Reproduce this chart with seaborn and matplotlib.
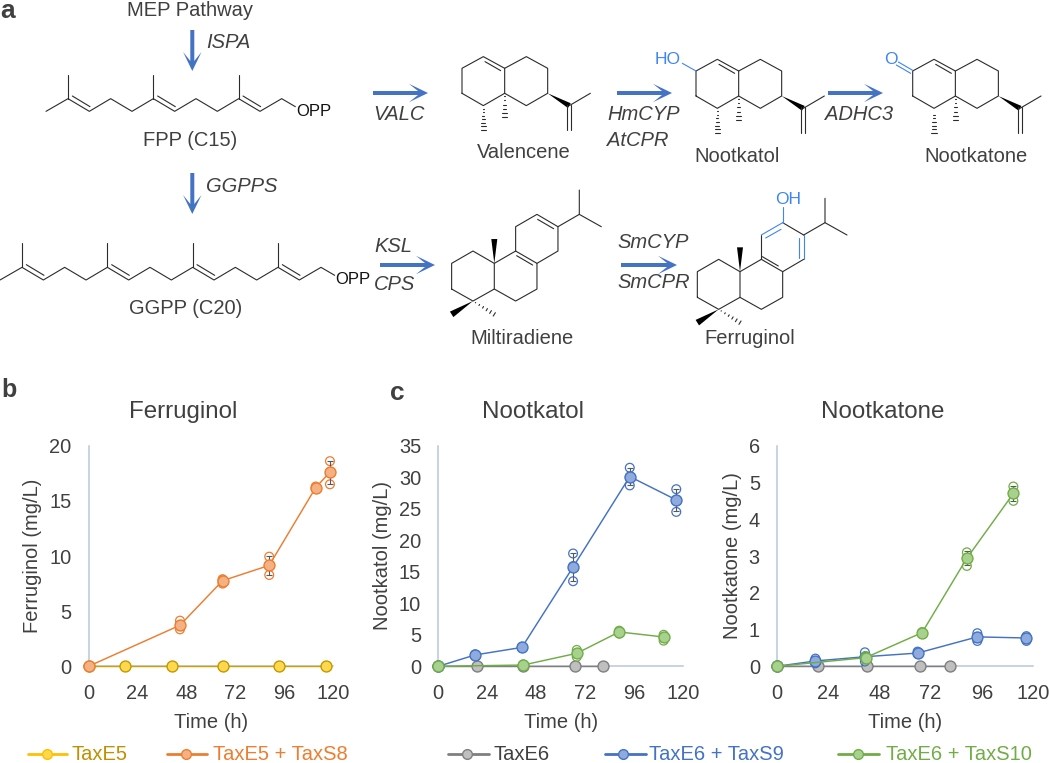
import numpy as np
import pandas as pd
import matplotlib
matplotlib.use("Agg")
import matplotlib.pyplot as plt
from matplotlib.patches import Polygon
import seaborn as sns

# ---------- data ----------
time_ticks = [0, 24, 48, 72, 96, 120]

fer_e5_time = [0, 18, 41, 65.8, 93.5, 116.7]
fer_e5_mean = [0, 0, 0, 0, 0, 0]
fer_s8_time = [0, 44.9, 65.8, 88.7, 111.5, 118.5]
fer_s8_mean = [0, 3.72, 7.76, 9.15, 16.2, 17.6]
fer_s8_reps = [[0], [4.14, 3.75, 3.35], [7.9, 7.8, 7.5], [9.94, 9.2, 8.28], [16.3, 16.1], [18.6, 17.6, 16.5]]

kol_e6_time = [0, 18.9, 41.6, 66.9, 81]
kol_e6_mean = [0, 0, 0, 0, 0]
kol_s9_time = [0, 18, 41, 66.1, 93.9, 116.7]
kol_s9_mean = [0, 1.8, 3.0, 15.76, 30.1, 26.4]
kol_s9_reps = [[0], [1.9, 1.7], [3.1, 2.9], [17.9, 15.9, 13.5], [31.5, 30.1, 28.7], [28.1, 26.4, 24.5]]
kol_s10_time = [0, 41.6, 67.9, 88.7, 110.5]
kol_s10_mean = [0, 0.2, 2.06, 5.45, 4.65]
kol_s10_reps = [[0], [0.3, 0.1], [2.6, 2.06, 1.5], [5.65, 5.2], [5.0, 4.6, 4.07]]

kon_e6_time = [0, 19.4, 42, 67, 81]
kon_e6_mean = [0, 0, 0, 0, 0]
kon_s9_time = [0, 18, 41.2, 65.9, 93.9, 116.9]
kon_s9_mean = [0, 0.145, 0.26, 0.36, 0.8, 0.77]
kon_s9_reps = [[0], [0.21, 0.08], [0.38, 0.26, 0.13], [0.4, 0.34], [0.9, 0.8, 0.69], [0.82, 0.77, 0.69]]
kon_s10_time = [0, 41.5, 68, 89, 110.8]
kon_s10_mean = [0, 0.235, 0.915, 2.94, 4.7]
kon_s10_reps = [[0], [0.28, 0.19], [0.93, 0.9], [3.1, 2.94, 2.73], [4.89, 4.7, 4.5]]

series_e5 = "TaxE5"
series_s8 = "TaxE5 + TaxS8"
series_e6 = "TaxE6"
series_s9 = "TaxE6 + TaxS9"
series_s10 = "TaxE6 + TaxS10"

# ---------- style ----------
sns.set_theme(style="white")
plt.rcParams["font.family"] = ["Liberation Sans", "DejaVu Sans"]

W, H = 1050, 763
TXT = "#404040"
BOND = "#2b2b2b"
BLUE = "#4472c4"
OXY = "#3f86ee"
AXC = "#b8c6dc"
styles = {
    series_e5: dict(line="#c9a20c", edge="#c09a00", fill="#ffd84d", leg="#ffc000", txt="#bf9000"),
    series_s8: dict(line="#ed7d31", edge="#ed7d31", fill="#f4b183", leg="#ed7d31", txt="#ed7d31"),
    series_e6: dict(line="#7f7f7f", edge="#7f7f7f", fill="#bfbfbf", leg="#7f7f7f", txt="#404040"),
    series_s9: dict(line="#4472c4", edge="#4472c4", fill="#8faadc", leg="#4472c4", txt="#4472c4"),
    series_s10: dict(line="#70ad47", edge="#70ad47", fill="#a9d18e", leg="#70ad47", txt="#70ad47"),
}

fig = plt.figure(figsize=(W / 100, H / 100), dpi=100, facecolor="white")
ov = fig.add_axes([0, 0, 1, 1], zorder=5)
ov.set_xlim(0, W)
ov.set_ylim(H, 0)
ov.axis("off")
ov.patch.set_alpha(0)


def txt(x, y, s, size=14.5, color=TXT, ha="center", **kw):
    ov.text(x, y, s, fontsize=size, color=color, ha=ha, va="center", **kw)


def line(pts, dx=0, dy=0, color=BOND, lw=0.8):
    a = np.array(pts, float)
    ov.plot(a[:, 0] / 3 + dx, a[:, 1] / 3 + dy, color=color, lw=lw,
            solid_capstyle="round", solid_joinstyle="round")


def wedge(p, q, dx=0, dy=0, width=5.5):
    p = np.array(p, float) / 3 + (dx, dy)
    q = np.array(q, float) / 3 + (dx, dy)
    d = q - p
    n = np.array([-d[1], d[0]]) / np.hypot(*d) * width / 2
    ov.add_patch(Polygon([p, q + n, q - n], closed=True, color="black", lw=0))


def hashed(p, q, dx=0, dy=0, n=6, width=5.5):
    p = np.array(p, float) / 3 + (dx, dy)
    q = np.array(q, float) / 3 + (dx, dy)
    d = q - p
    u = np.array([-d[1], d[0]]) / np.hypot(*d)
    for f in np.linspace(0.12, 1, n):
        c = p + d * f
        h = u * width / 2 * f
        ov.plot([c[0] - h[0], c[0] + h[0]], [c[1] - h[1], c[1] + h[1]], color=BOND, lw=0.8)


def arrow(x0, y0, x1, y1):
    p0 = np.array([x0, y0], float)
    p1 = np.array([x1, y1], float)
    u = (p1 - p0) / np.hypot(*(p1 - p0))
    n = np.array([-u[1], u[0]])
    sw, hw, hl, notch = 2.0, 9.2, 19, 9
    pts = [p0 + n * sw, p1 - u * (hl - notch) + n * sw, p1 - u * hl + n * hw, p1,
           p1 - u * hl - n * hw, p1 - u * (hl - notch) - n * sw, p0 - n * sw]
    ov.add_patch(Polygon(pts, closed=True, color=BLUE, lw=0))


def prenyl(x0s, y0):
    chain = [(x0s[0] - 66, y0 + 38)]
    for i, x in enumerate(x0s):
        chain += [(x, y0), (x + 64, y0 + 38)]
        if i < len(x0s) - 1:
            chain += [(x + 128, y0), (x + 192, y0 + 38)]
    chain += [(x0s[-1] + 129, y0), (x0s[-1] + 170, y0 + 24)]
    line(chain)
    for x in x0s:
        line([(x, y0), (x, y0 - 72)])
        line([(x + 13, y0 - 8), (x + 66, y0 + 24)])


def decalin(dx, dy, oxygen=None):
    line([(513, 288), (513, 213), (577, 178), (641, 213), (641, 288), (577, 325), (513, 288)], dx, dy)
    line([(641, 213), (706, 178), (770, 213), (770, 288), (706, 325), (641, 288)], dx, dy)
    line([(582, 193), (629, 220)], dx, dy)
    hashed((577, 325), (577, 398), dx, dy, n=7)
    hashed((641, 288), (641, 360), dx, dy, n=6)
    wedge((770, 288), (835, 325), dx, dy)
    line([(835, 325), (898, 288)], dx, dy)
    line([(828, 322), (828, 398)], dx, dy)
    line([(841, 322), (841, 398)], dx, dy)


def abietane(dx, dy):
    line([(517, 892), (517, 815), (581, 778), (645, 815), (645, 892), (581, 928), (517, 892)], dx, dy)
    line([(645, 815), (709, 778), (773, 815), (773, 892), (709, 928), (645, 892)], dx, dy)
    wedge((645, 815), (645, 742), dx, dy, width=6)
    wedge((581, 928), (517, 968), dx, dy, width=6.5)
    hashed((581, 928), (645, 968), dx, dy, n=6, width=4)
    line([(836, 705), (900, 668), (900, 595)], dx, dy)
    line([(900, 668), (966, 705)], dx, dy)


# ---------- scheme ----------
txt(190, 10, "MEP Pathway")
txt(190, 140, "FPP (C15)")
txt(186, 308, "GGPP (C20)")
txt(524, 153, "Valencene")
txt(737, 156, "Nootkatol")
txt(976, 156, "Nootkatone")
txt(522, 338, "Miltiradiene")
txt(750, 338, "Ferruginol")

for x, y, s in [(206, 42, "ISPA"), (206, 187, "GGPPS"), (373, 115, "VALC"), (374, 247, "KSL"),
                (374, 284, "CPS"), (607, 115, "HmCYP"), (607, 140, "AtCPR"), (825, 115, "ADHC3"),
                (617, 243, "SmCYP"), (617, 283, "SmCPR")]:
    txt(x, y, s, ha="left", style="italic")

for a in [(192.3, 30, 192.3, 71), (192.3, 173, 192.3, 214), (373, 93, 428, 93), (380, 265, 435, 265),
          (617, 93, 672, 93), (828, 93, 883, 93), (621, 265, 677, 265)]:
    arrow(*a)

prenyl([204, 460, 716], 296)
txt(314, 111, "OPP", size=12, color="#111111")
prenyl([66, 322, 578, 834], 802)
txt(353, 279, "OPP", size=12, color="#111111")

# valencene, nootkatol, nootkatone
decalin(525 - 234, -2.7)
decalin(525, 0)
decalin(525 + 216.7, 0)
line([(513, 213), (472, 190)], 525, 0, color=OXY)
txt(525 + 143, 59.5, "HO", size=12.5, color=OXY)
txt(525 + 366, 59.5, "O", size=12.5, color=OXY)
line([(1163, 211), (1120, 186)], 525, 0, color=OXY)
line([(1157, 220), (1114, 195)], 525, 0, color=OXY)

# miltiradiene
abietane(525 - 245.7, -8.3)
line([(709, 778), (709, 705), (773, 668), (836, 705), (836, 778), (773, 815)], 525 - 245.7, -8.3)
line([(775, 683), (823, 711)], 525 - 245.7, -8.3)
line([(712, 792), (760, 820)], 525 - 245.7, -8.3)

# ferruginol
abietane(525, 0)
line([(709, 778), (709, 705)], 525, 0)
line([(773, 668), (836, 705)], 525, 0)
line([(836, 778), (773, 815)], 525, 0)
line([(712, 770), (760, 798)], 525, 0)
line([(709, 705), (773, 668)], 525, 0, color=OXY)
line([(836, 705), (836, 778)], 525, 0, color=OXY)
line([(722, 714), (768, 688)], 525, 0, color=OXY)
line([(822, 714), (822, 773)], 525, 0, color=OXY)
line([(773, 668), (773, 620)], 525, 0, color=OXY)
txt(525 + 263.5, 199, "OH", size=12.5, color=OXY)

# panel letters
txt(8, 11.5, "a", size=19, weight="bold")
txt(9, 390, "b", size=18, weight="bold")
txt(397, 393, "c", size=19, weight="bold")


# ---------- charts ----------
def make_axes(x0, x1, ymax, yticks, ylabel, title, title_x, ylabel_x):
    ax = fig.add_axes([x0 / W, 1 - 666.3 / H, (x1 - x0) / W, 220.6 / H])
    ax.patch.set_alpha(0)
    ax.set_xlim(0, 120)
    ax.set_ylim(0, ymax)
    ax.set_xticks(time_ticks)
    ax.set_yticks(yticks)
    ax.tick_params(axis="both", length=4.3, width=1, color=AXC, labelsize=14.4, labelcolor=TXT, direction="out")
    ax.tick_params(axis="x", pad=8.5)
    ax.tick_params(axis="y", pad=8)
    sns.despine(ax=ax)
    for s in ("left", "bottom"):
        ax.spines[s].set_color(AXC)
        ax.spines[s].set_linewidth(1.1)
    ax.set_title(title, fontsize=17.4, color=TXT, x=(title_x - x0) / (x1 - x0), pad=20)
    ax.set_xlabel("Time (h)", fontsize=14.5, color=TXT)
    ax.set_ylabel(ylabel, fontsize=14.5, color=TXT)
    ax.xaxis.set_label_coords(0.5, -0.21)
    ax.yaxis.set_label_coords((ylabel_x - x0) / (x1 - x0), 0.5)
    ax.yaxis.label.set_va("center")
    return ax


def draw(ax, name, t, m, reps=None, z=3):
    st = styles[name]
    df = pd.DataFrame({"t": t, "m": m})
    sns.lineplot(data=df, x="t", y="m", ax=ax, color=st["line"], lw=1.05, zorder=z, clip_on=False,
                 estimator=None, sort=False, legend=False)
    if reps is not None:
        rx = [a for a, r in zip(t, reps) for _ in r]
        ry = [v for r in reps for v in r]
        rdf = pd.DataFrame({"t": rx, "v": ry})
        sns.scatterplot(data=rdf, x="t", y="v", ax=ax, s=40, facecolor="none", edgecolor=st["edge"],
                        linewidth=0.9, zorder=z + 0.1, clip_on=False, legend=False)
        sd = [np.std(r, ddof=1) if len(r) > 1 else 0 for r in reps]
        ax.errorbar(t, m, yerr=sd, fmt="none", ecolor="#595959", elinewidth=0.8, capsize=2.5, capthick=0.8,
                    zorder=z + 0.2, clip_on=False)
    sns.scatterplot(data=df, x="t", y="m", ax=ax, s=62, color=st["fill"], edgecolor=st["edge"],
                    linewidth=1.0, zorder=z + 0.3, clip_on=False, legend=False)


axb = make_axes(88.5, 333, 20, [0, 5, 10, 15, 20], "Ferruginol (mg/L)", "Ferruginol", 183, 32)
draw(axb, series_e5, fer_e5_time, fer_e5_mean, z=3)
draw(axb, series_s8, fer_s8_time, fer_s8_mean, fer_s8_reps, z=4)

axc = make_axes(438.3, 683, 35, [0, 5, 10, 15, 20, 25, 30, 35], "Nootkatol (mg/L)", "Nootkatol", 533, 383)
draw(axc, series_e6, kol_e6_time, kol_e6_mean, z=3)
draw(axc, series_s9, kol_s9_time, kol_s9_mean, kol_s9_reps, z=4)
draw(axc, series_s10, kol_s10_time, kol_s10_mean, kol_s10_reps, z=5)

axd = make_axes(777, 1033, 6, [0, 1, 2, 3, 4, 5, 6], "Nootkatone (mg/L)", "Nootkatone", 883, 732)
draw(axd, series_e6, kon_e6_time, kon_e6_mean, z=3)
draw(axd, series_s9, kon_s9_time, kon_s9_mean, kon_s9_reps, z=4)
draw(axd, series_s10, kon_s10_time, kon_s10_mean, kon_s10_reps, z=5)

# ---------- legend row ----------
for name, x0, x1, xm, xt in [(series_e5, 28, 67, 47, 71), (series_s8, 167, 207, 186, 213),
                             (series_e6, 448, 489, 467, 493), (series_s9, 605, 646, 623, 649),
                             (series_s10, 838, 879, 858, 886)]:
    st = styles[name]
    ov.plot([x0, x1], [754, 754], color=st["leg"], lw=2, solid_capstyle="round")
    ov.plot([xm], [753.5], "o", ms=7, mfc=st["fill"], mec=st["leg"], mew=1)
    txt(xt, 754, name, size=14.5, color=st["txt"], ha="left")

fig.savefig("out.png", dpi=100)
